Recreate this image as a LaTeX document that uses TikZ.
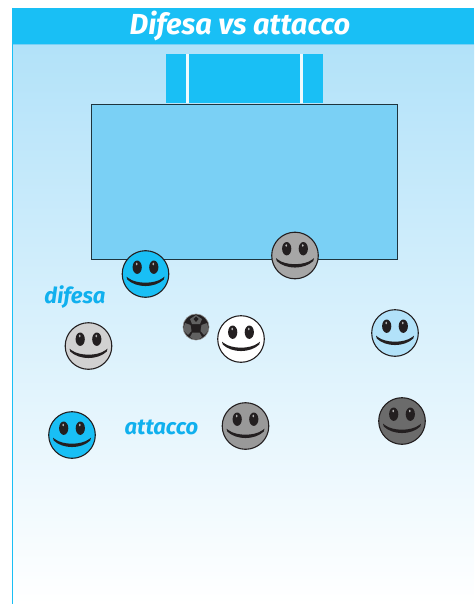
\documentclass[tikz,border=0pt]{standalone}
\usepackage{fontspec}
\setmainfont{Fira Sans}
\definecolor{cyanbar}{HTML}{19BFF5}
\definecolor{pitch}{HTML}{7AD0F5}
\definecolor{skytop}{HTML}{B2E2F9}
\definecolor{inkc}{HTML}{231F20}
\definecolor{labelc}{HTML}{10B0EE}
\tikzset{
  x=1pt,y=-1pt,
  face/.style={draw=inkc,line width=1.1pt},
  lbl/.style={font=\bfseries\itshape\fontsize{22}{24}\selectfont,text=labelc,inner sep=0pt},
  pics/smiley/.style={code={
    \fill[face,fill=#1] (0,0) circle (23.3);
    \fill[inkc] (-8.3,-6.8) ellipse (4.6 and 6.7);
    \fill[inkc] (8.3,-6.8) ellipse (4.6 and 6.7);
    \fill[white!70!inkc] (-8.8,-10) ellipse (0.9 and 1.4);
    \fill[white!70!inkc] (7.8,-10) ellipse (0.9 and 1.4);
    \fill[inkc] (-19,2.6) -- (-17,4.2) .. controls (-9,10.2) and (9,10.2) .. (17,4.2) -- (19,2.6) -- (18.2,5.6)
       .. controls (9,14.2) and (-9,14.2) .. (-18.2,5.6) -- cycle;
  }},
}
\begin{document}
\begin{tikzpicture}
\useasboundingbox (0,0) rectangle (474,604);
\fill[white] (0,0) rectangle (474,604);
% page background
\shade[top color=skytop,bottom color=white] (13,44) rectangle (474,604);
\fill[cyanbar] (12,8) rectangle (474,44);
\draw[cyanbar,line width=1.2pt] (12.6,8) -- (12.6,604);
\draw[pitch,line width=0.8pt] (13,44.4) -- (474,44.4);
\node[font=\bfseries\itshape\fontsize{29}{30}\selectfont,text=white,inner sep=0pt] (title) at (240,26) {Difesa vs attacco};
% goal
\fill[cyanbar] (166,54) rectangle (322.5,103);
\fill[white!92!cyanbar] (186,54) rectangle (188.6,103);
\fill[white!92!cyanbar] (300.4,54) rectangle (303,103);
% pitch
\draw[fill=pitch,draw=black!75!pitch,line width=0.8pt] (91.5,104.8) rectangle (397.3,259.8);
% labels
\node[lbl] (difesa) at (75,297) {difesa};
\node[lbl] (attacco) at (161.5,427) {attacco};
% players
\pic at (145.5,274) {smiley={cyan!55!blue!0!cyanbar!100}};
\pic at (295,255.5) {smiley={black!35}};
\pic at (241,339) {smiley=white};
\pic at (395,333) {smiley={skytop}};
\pic at (88.5,346) {smiley={black!18}};
\pic at (72,435) {smiley=cyanbar};
\pic at (245.5,426) {smiley={black!40}};
\pic at (402,421) {smiley={black!58}};
% ball
\begin{scope}[shift={(196,327)}]
  \fill[inkc,draw=black!45,line width=0.6pt] (0,0) circle (13);
  \clip (0,0) circle (12.6);
  \fill[black!62] (0,-12) -- (6,-8) -- (4,-3) -- (-4,-3) -- (-6,-8) -- cycle;
  \fill[black!62] (5.5,-2) -- (11,-4) -- (13,3) -- (8,8) -- (4.5,4) -- cycle;
  \fill[black!62] (-5.5,-2) -- (-11,-4) -- (-13,3) -- (-8,8) -- (-4.5,4) -- cycle;
  \fill[black!62] (-3.5,5.5) -- (3.5,5.5) -- (6,10) -- (0,14) -- (-6,10) -- cycle;
  \fill[inkc] (0,-10.5) -- (2.5,-8) -- (0,-5) -- (-2.5,-8) -- cycle;
\end{scope}
\end{tikzpicture}
\end{document}
